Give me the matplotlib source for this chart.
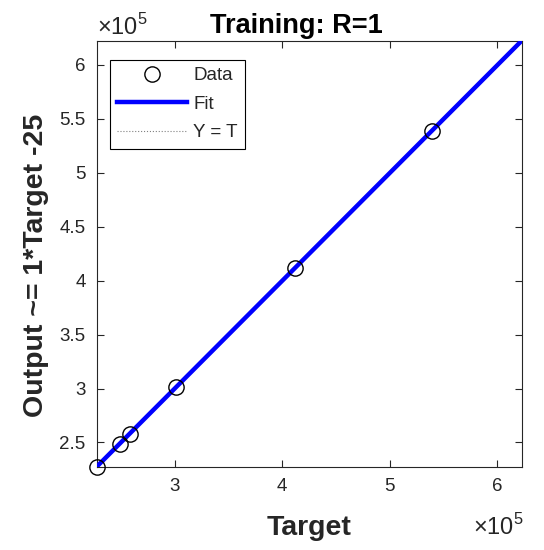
import matplotlib
matplotlib.use('Agg')
from matplotlib import pyplot as plt
from matplotlib.ticker import FuncFormatter
import numpy as np

plt.rcParams['font.family'] = ['Liberation Sans', 'DejaVu Sans']
plt.rcParams['mathtext.fontset'] = 'custom'
plt.rcParams['mathtext.rm'] = 'Liberation Sans'

# data
targets = [2.276e5, 2.49e5, 2.58e5, 3.015e5, 4.12e5, 5.39e5]
outputs = [2.276e5, 2.49e5, 2.58e5, 3.015e5, 4.12e5, 5.39e5]
fit_slope = 1
fit_offset = -25
lims = [2.275e5, 6.225e5]
xticks = [3e5, 4e5, 5e5, 6e5]
yticks = [2.5e5, 3e5, 3.5e5, 4e5, 4.5e5, 5e5, 5.5e5, 6e5]

W, H = 544, 550
fig = plt.figure(figsize=(W / 100, H / 100), dpi=100)
ax = fig.add_axes([96.7 / W, 1 - 466.7 / H, 425 / W, 426 / H])

grey = '#262626'
line_x = np.array(lims)
ax.plot(line_x, line_x, ':', color='#808080', lw=0.8, label='Y = T', zorder=2)
ax.plot(line_x, fit_slope * line_x + fit_offset, '-', color='#0000ff', lw=3.2, label='Fit', zorder=3)
ax.plot(targets, outputs, 'o', mfc='none', mec='black', ms=11, mew=1.0, label='Data',
        zorder=4, clip_on=False)

ax.set_xlim(lims)
ax.set_ylim(lims)
ax.set_xticks(xticks)
ax.set_yticks(yticks)
fmt = FuncFormatter(lambda v, p: ('%g' % (v / 1e5)))
ax.xaxis.set_major_formatter(fmt)
ax.yaxis.set_major_formatter(fmt)
ax.tick_params(direction='in', top=True, right=True, length=5, width=0.8,
               labelsize=13.5, colors=grey, pad=8)
for s in ax.spines.values():
    s.set_color(grey)
    s.set_linewidth(0.8)

ax.set_title('Training: R=1', fontsize=19.5, fontweight='bold', x=0.471, pad=5.8)
ax.set_xlabel('Target', fontsize=20.5, fontweight='bold', color=grey)
ax.set_ylabel('Output ~= 1*Target -25', fontsize=20.5, fontweight='bold', color=grey)
ax.xaxis.set_label_coords(0.50, -0.160, transform=ax.transAxes)
ax.yaxis.set_label_coords(-0.142, 0.473, transform=ax.transAxes)
ax.xaxis.label.set_va('baseline')
ax.yaxis.label.set_va('center')

fig.text(97 / W, 1 - 35 / H, r'$\times10^{5}$', fontsize=17, color=grey, ha='left', va='baseline')
fig.text(524 / W, 1 - 535 / H, r'$\times10^{5}$', fontsize=17, color=grey, ha='right', va='baseline')

h, l = ax.get_legend_handles_labels()
order = [2, 1, 0]
leg = ax.legend([h[i] for i in order], [l[i] for i in order], loc='upper left',
                bbox_to_anchor=(0.031, 0.955), fontsize=13.5, fancybox=False,
                edgecolor='black', framealpha=1, handlelength=3.7, handletextpad=0.35,
                labelspacing=0.6, borderpad=0.4, borderaxespad=0)
leg.get_frame().set_linewidth(0.8)
for t in leg.get_texts():
    t.set_color(grey)

fig.savefig('out.png', dpi=100)
